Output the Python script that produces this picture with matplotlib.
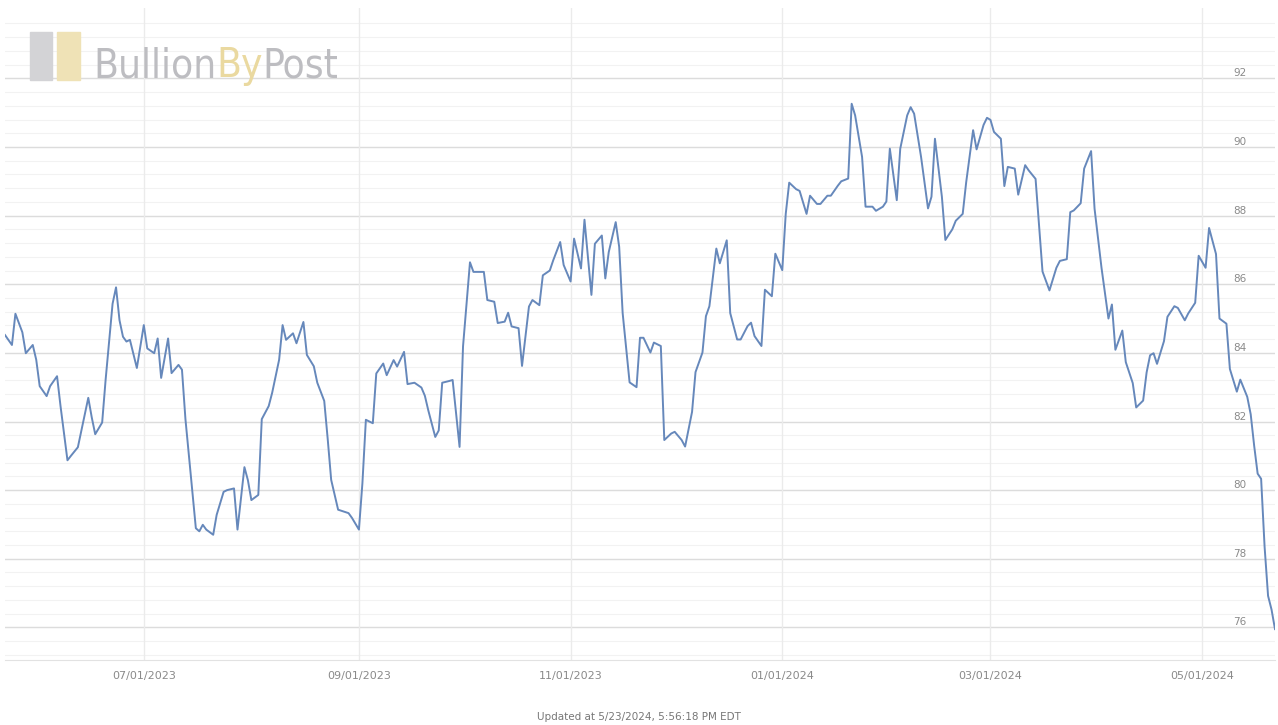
import numpy as np
import pandas as pd
import matplotlib
matplotlib.use("Agg")
from matplotlib import pyplot as plt
import matplotlib.dates as mdates
from matplotlib.patches import Rectangle

# gold / silver ratio
dates = [
    "2023-05-22", "2023-05-24", "2023-05-25", "2023-05-27", "2023-05-28", "2023-05-30", "2023-05-31",
    "2023-06-01", "2023-06-03", "2023-06-04", "2023-06-06", "2023-06-07", "2023-06-09", "2023-06-10",
    "2023-06-12", "2023-06-15", "2023-06-16", "2023-06-17", "2023-06-19", "2023-06-20", "2023-06-22",
    "2023-06-23", "2023-06-24", "2023-06-25", "2023-06-26", "2023-06-27", "2023-06-29", "2023-07-01",
    "2023-07-02", "2023-07-04", "2023-07-05", "2023-07-06", "2023-07-08", "2023-07-09", "2023-07-11",
    "2023-07-12", "2023-07-13", "2023-07-15", "2023-07-16", "2023-07-17", "2023-07-18", "2023-07-19",
    "2023-07-21", "2023-07-22", "2023-07-24", "2023-07-25", "2023-07-27", "2023-07-28", "2023-07-30",
    "2023-07-31", "2023-08-01", "2023-08-03", "2023-08-04", "2023-08-06", "2023-08-07", "2023-08-09",
    "2023-08-10", "2023-08-11", "2023-08-13", "2023-08-14", "2023-08-16", "2023-08-17", "2023-08-19",
    "2023-08-20", "2023-08-22", "2023-08-23", "2023-08-24", "2023-08-26", "2023-08-29", "2023-08-30",
    "2023-09-01", "2023-09-02", "2023-09-03", "2023-09-05", "2023-09-06", "2023-09-08", "2023-09-09",
    "2023-09-11", "2023-09-12", "2023-09-14", "2023-09-15", "2023-09-17", "2023-09-19", "2023-09-20",
    "2023-09-21", "2023-09-23", "2023-09-24", "2023-09-25", "2023-09-27", "2023-09-28", "2023-09-30",
    "2023-10-01", "2023-10-03", "2023-10-04", "2023-10-06", "2023-10-07", "2023-10-08", "2023-10-10",
    "2023-10-11", "2023-10-13", "2023-10-14", "2023-10-15", "2023-10-17", "2023-10-18", "2023-10-20",
    "2023-10-21", "2023-10-23", "2023-10-24", "2023-10-26", "2023-10-27", "2023-10-29", "2023-10-30",
    "2023-11-01", "2023-11-02", "2023-11-04", "2023-11-05", "2023-11-07", "2023-11-08", "2023-11-10",
    "2023-11-11", "2023-11-12", "2023-11-14", "2023-11-15", "2023-11-16", "2023-11-18", "2023-11-20",
    "2023-11-21", "2023-11-22", "2023-11-24", "2023-11-25", "2023-11-27", "2023-11-28", "2023-11-30",
    "2023-12-01", "2023-12-03", "2023-12-04", "2023-12-06", "2023-12-07", "2023-12-09", "2023-12-10",
    "2023-12-11", "2023-12-13", "2023-12-14", "2023-12-16", "2023-12-17", "2023-12-19", "2023-12-20",
    "2023-12-22", "2023-12-23", "2023-12-24", "2023-12-26", "2023-12-27", "2023-12-29", "2023-12-30",
    "2024-01-01", "2024-01-02", "2024-01-03", "2024-01-05", "2024-01-06", "2024-01-08", "2024-01-09",
    "2024-01-11", "2024-01-12", "2024-01-14", "2024-01-15", "2024-01-17", "2024-01-18", "2024-01-20",
    "2024-01-21", "2024-01-22", "2024-01-24", "2024-01-25", "2024-01-27", "2024-01-28", "2024-01-30",
    "2024-01-31", "2024-02-01", "2024-02-03", "2024-02-04", "2024-02-06", "2024-02-07", "2024-02-08",
    "2024-02-10", "2024-02-12", "2024-02-13", "2024-02-14", "2024-02-16", "2024-02-17", "2024-02-19",
    "2024-02-20", "2024-02-22", "2024-02-23", "2024-02-25", "2024-02-26", "2024-02-28", "2024-02-29",
    "2024-03-01", "2024-03-02", "2024-03-04", "2024-03-05", "2024-03-06", "2024-03-08", "2024-03-09",
    "2024-03-11", "2024-03-12", "2024-03-14", "2024-03-15", "2024-03-16", "2024-03-18", "2024-03-20",
    "2024-03-21", "2024-03-23", "2024-03-24", "2024-03-25", "2024-03-27", "2024-03-28", "2024-03-30",
    "2024-03-31", "2024-04-02", "2024-04-04", "2024-04-05", "2024-04-06", "2024-04-08", "2024-04-09",
    "2024-04-11", "2024-04-12", "2024-04-14", "2024-04-15", "2024-04-16", "2024-04-17", "2024-04-18",
    "2024-04-20", "2024-04-21", "2024-04-23", "2024-04-24", "2024-04-26", "2024-04-27", "2024-04-29",
    "2024-04-30", "2024-05-02", "2024-05-03", "2024-05-05", "2024-05-06", "2024-05-08", "2024-05-09",
    "2024-05-11", "2024-05-12", "2024-05-14", "2024-05-15", "2024-05-16", "2024-05-17", "2024-05-18",
    "2024-05-19", "2024-05-20", "2024-05-21", "2024-05-22",
]
ratio = [
    84.52, 84.23, 85.14, 84.60, 83.99, 84.23, 83.80,
    83.03, 82.74, 83.03, 83.32, 82.45, 80.87, 81.00,
    81.25, 82.69, 82.12, 81.63, 81.97, 83.22, 85.43,
    85.91, 84.95, 84.47, 84.33, 84.38, 83.56, 84.81,
    84.13, 83.99, 84.42, 83.27, 84.42, 83.41, 83.65,
    83.51, 82.07, 79.95, 78.89, 78.80, 78.99, 78.85,
    78.70, 79.28, 79.95, 80.00, 80.05, 78.85, 80.67,
    80.29, 79.71, 79.86, 82.07, 82.45, 82.84, 83.80,
    84.81, 84.38, 84.57, 84.28, 84.90, 83.94, 83.61,
    83.13, 82.60, 81.49, 80.30, 79.43, 79.33, 79.19,
    78.85, 80.20, 82.05, 81.95, 83.40, 83.69, 83.35,
    83.79, 83.60, 84.03, 83.09, 83.13, 82.99, 82.75,
    82.32, 81.55, 81.74, 83.13, 83.18, 83.21, 81.26,
    84.19, 86.64, 86.36, 86.36, 86.36, 85.54, 85.49,
    84.87, 84.91, 85.17, 84.77, 84.72, 83.62, 85.35,
    85.54, 85.39, 86.26, 86.40, 86.70, 87.23, 86.56,
    86.08, 87.33, 86.46, 87.88, 85.69, 87.18, 87.42,
    86.17, 86.94, 87.81, 87.09, 85.16, 83.14, 83.00,
    84.44, 84.44, 84.01, 84.30, 84.20, 81.46, 81.65,
    81.70, 81.46, 81.27, 82.28, 83.44, 84.01, 85.07,
    85.36, 87.04, 86.61, 87.28, 85.16, 84.39, 84.39,
    84.78, 84.88, 84.49, 84.20, 85.84, 85.65, 86.89,
    86.41, 88.05, 88.96, 88.77, 88.72, 88.05, 88.58,
    88.34, 88.34, 88.58, 88.58, 88.87, 89.00, 89.08,
    91.26, 90.92, 89.71, 88.26, 88.26, 88.14, 88.26,
    88.41, 89.95, 88.45, 89.95, 90.92, 91.16, 90.97,
    89.71, 88.21, 88.55, 90.24, 88.55, 87.29, 87.60,
    87.85, 88.05, 88.97, 90.49, 89.93, 90.64, 90.85,
    90.79, 90.44, 90.24, 88.86, 89.42, 89.37, 88.61,
    89.47, 89.32, 89.07, 87.70, 86.37, 85.82, 86.48,
    86.68, 86.73, 88.10, 88.15, 88.36, 89.37, 89.88,
    88.20, 86.48, 85.00, 85.41, 84.09, 84.65, 83.73,
    83.12, 82.41, 82.61, 83.43, 83.93, 83.99, 83.68,
    84.34, 85.05, 85.36, 85.31, 84.95, 85.15, 85.46,
    86.83, 86.48, 87.64, 86.88, 85.00, 84.85, 83.53,
    82.87, 83.22, 82.72, 82.21, 81.29, 80.48, 80.33,
    78.35, 76.92, 76.52, 75.95,
]
y_ticks = [76, 78, 80, 82, 84, 86, 88, 90, 92]
x_ticks = ["2023-07-01", "2023-09-01", "2023-11-01", "2024-01-01", "2024-03-01", "2024-05-01"]
logo_parts = ["Bullion", "By", "Post"]
logo_colors = ["#bdbdc1", "#ead9a0", "#bdbdc1"]
footer = "Updated at 5/23/2024, 5:56:18 PM EDT"

W, H = 1278, 725
x = pd.to_datetime(dates)

fig = plt.figure(figsize=(W / 100, H / 100), dpi=100)
ax = fig.add_axes([5 / W, 1 - 660 / H, 1270 / W, 652 / H])

# minor horizontal lines every 0.4
for v in np.arange(75.2, 94.0, 0.4):
    ax.axhline(v, color="#f2f2f2", lw=0.8, zorder=0)
for v in y_ticks:
    ax.axhline(v, color="#dcdcdc", lw=1.0, zorder=1)
for d in pd.to_datetime(x_ticks):
    ax.axvline(d, color="#ebebeb", lw=1.0, zorder=1)

ax.plot(x, ratio, color="#6688bb", lw=1.4, zorder=3)

ax.set_xlim(x[0], x[-1])
ax.set_ylim(75.05, 94.05)

ax.set_xticks(pd.to_datetime(x_ticks))
ax.xaxis.set_major_formatter(mdates.DateFormatter("%m/%d/%Y"))
ax.tick_params(axis="x", length=0, pad=8, labelsize=8, labelcolor="#8a8a8a")

ax.yaxis.tick_right()
ax.set_yticks(y_ticks)
ax.tick_params(axis="y", length=0, pad=-30, labelsize=7.5, labelcolor="#8a8a8a")
for lab in ax.get_yticklabels():
    lab.set_verticalalignment("bottom")

for s in ["top", "left", "right"]:
    ax.spines[s].set_visible(False)
ax.spines["bottom"].set_color("#e2e2e2")

# faded BullionByPost watermark
fig.patches.append(Rectangle((30 / W, 1 - 80 / H), 22 / W, 48 / H,
                             transform=fig.transFigure, color="#d3d3d6", zorder=5))
fig.patches.append(Rectangle((57 / W, 1 - 80 / H), 23 / W, 48 / H,
                             transform=fig.transFigure, color="#efe2b6", zorder=5))

# lay the three words side by side, then scale them to span x = 93..338 px
renderer = fig.canvas.get_renderer()
logo_size = 30
texts = [fig.text(0, 1 - 77 / H, p, size=logo_size, color=c, va="baseline",
                  family="DejaVu Sans", fontstretch="condensed")
         for p, c in zip(logo_parts, logo_colors)]
widths = [t.get_window_extent(renderer).width for t in texts]
scale = 245 / sum(widths)
xpos = 93
for t, w in zip(texts, widths):
    t.set_fontsize(logo_size * scale)
    t.set_x(xpos / W)
    xpos += w * scale

fig.text(0.5, 1 - 717 / H, footer, ha="center", va="center", size=7.5, color="#777777")

fig.savefig("out.png", dpi=100, facecolor="white")
